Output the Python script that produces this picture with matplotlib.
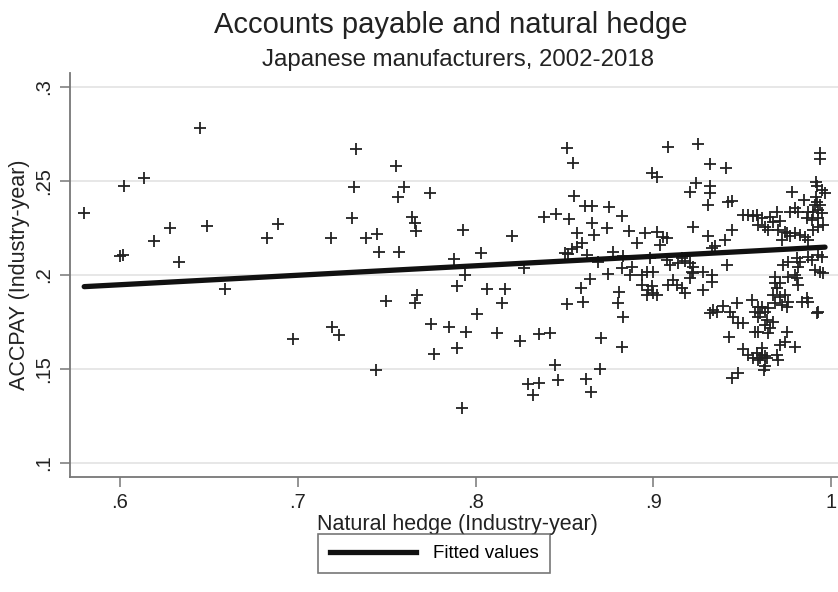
import numpy as np
import matplotlib
matplotlib.use("Agg")
import matplotlib.pyplot as plt
from matplotlib.lines import Line2D

plt.rcParams['font.family'] = ['Liberation Sans', 'DejaVu Sans']

# Natural hedge (x) and ACCPAY (y)
hedge = [
    # left region
    0.5799, 0.6023, 0.6137, 0.6000, 0.6015, 0.6190, 0.6280, 0.6330, 0.6450, 0.6490, 0.6590, 0.6825, 0.6887,
    # 0.70 - 0.84
    0.7328, 0.7553, 0.7317, 0.7600, 0.7566, 0.7746, 0.7303, 0.7641, 0.7660, 0.7663, 0.7187, 0.7384, 0.7444,
    0.7928, 0.8204, 0.7459, 0.7570, 0.7879, 0.8029, 0.7941, 0.8273, 0.7896, 0.8066, 0.8168, 0.7497, 0.7673,
    0.7660, 0.8147, 0.8010, 0.7191, 0.7234, 0.7748, 0.7851, 0.7945, 0.8123, 0.8250, 0.7768, 0.7894, 0.7440,
    0.7922, 0.6975,
    # 0.83 - 0.89
    0.8517, 0.8551, 0.8555, 0.8616, 0.8653, 0.8751, 0.8822, 0.8385, 0.8453, 0.8524, 0.8653, 0.8737, 0.8865,
    0.8569, 0.8667, 0.8597, 0.8569, 0.8541, 0.8907, 0.8503, 0.8522, 0.8625, 0.8775, 0.8832, 0.8691, 0.8747,
    0.8822, 0.8878, 0.8869, 0.8646, 0.8592, 0.8513, 0.8603, 0.8809, 0.8803, 0.8827, 0.8704, 0.8822, 0.8620,
    0.8648, 0.8700, 0.8447, 0.8466, 0.8297, 0.8359, 0.8322, 0.8359, 0.8419,
    # 0.89 - 0.945 above line
    0.9081, 0.9253, 0.9319, 0.9409, 0.8991, 0.9023, 0.9240, 0.9206, 0.9319, 0.9319, 0.9310, 0.9423, 0.9441,
    0.8954, 0.9019, 0.9057, 0.9038, 0.9075, 0.9225, 0.9310, 0.9441, 0.9403, 0.9347, 0.9328, 0.8982, 0.9075,
    0.9094, 0.9141, 0.9160, 0.9178, 0.9206, 0.9225, 0.9216, 0.9281, 0.9328, 0.9413, 0.8935, 0.8963, 0.9001,
    # 0.89 - 0.935 below line
    0.8935, 0.8972, 0.8963, 0.9001, 0.9019, 0.8991, 0.9085, 0.9113, 0.9132, 0.9160, 0.9178, 0.9206, 0.9225,
    0.9281, 0.9328,
    # 0.93 - 0.965 low cluster
    0.9319, 0.9338, 0.9356, 0.9394, 0.9429, 0.9450, 0.9469, 0.9479, 0.9507, 0.9554, 0.9572, 0.9610, 0.9601,
    0.9591, 0.9572, 0.9425, 0.9502, 0.9535, 0.9563, 0.9591, 0.9610, 0.9629, 0.9629, 0.9441, 0.9479,
    # 0.95 - 1.0 upper cluster
    0.9938, 0.9938, 0.9916, 0.9920, 0.9947, 0.9966, 0.9783, 0.9845, 0.9916, 0.9920, 0.9938, 0.9907, 0.9797,
    0.9769, 0.9816, 0.9873, 0.9901, 0.9929, 0.9947, 0.9507, 0.9535, 0.9563, 0.9582, 0.9610, 0.9657, 0.9694,
    0.9591, 0.9629, 0.9676, 0.9713, 0.9648, 0.9704, 0.9741, 0.9723, 0.9751, 0.9769, 0.9797, 0.9826, 0.9854,
    0.9873, 0.9863, 0.9891, 0.9929, 0.9929, 0.9901, 0.9957,
    # 0.965 - 1.0 around the line
    0.9732, 0.9760, 0.9807, 0.9826, 0.9816, 0.9873, 0.9891, 0.9929, 0.9947, 0.9910, 0.9957, 0.9797, 0.9685,
    0.9760,
    # 0.955 - 1.0 lower cluster
    0.9685, 0.9694, 0.9713, 0.9807, 0.9816, 0.9938, 0.9676, 0.9713, 0.9741, 0.9685, 0.9723, 0.9751, 0.9760,
    0.9591, 0.9648, 0.9629, 0.9835, 0.9863, 0.9873, 0.9919, 0.9929, 0.9591, 0.9638, 0.9629, 0.9676, 0.9657,
    0.9648, 0.9751, 0.9713, 0.9797, 0.9741, 0.9582, 0.9610, 0.9601, 0.9638, 0.9694, 0.9704, 0.9620,
]

accpay = [
    0.2327, 0.2472, 0.2513, 0.2100, 0.2105, 0.2180, 0.2250, 0.2066, 0.2780, 0.2259, 0.1926, 0.2194, 0.2270,
    0.2667, 0.2580, 0.2468, 0.2465, 0.2412, 0.2433, 0.2303, 0.2305, 0.2273, 0.2234, 0.2194, 0.2194, 0.2217,
    0.2238, 0.2207, 0.2119, 0.2119, 0.2084, 0.2114, 0.2000, 0.2034, 0.1940, 0.1926, 0.1926, 0.1862, 0.1890,
    0.1848, 0.1848, 0.1791, 0.1723, 0.1679, 0.1736, 0.1720, 0.1697, 0.1688, 0.1647, 0.1578, 0.1608, 0.1493,
    0.1293, 0.1660,
    0.2672, 0.2596, 0.2420, 0.2365, 0.2365, 0.2358, 0.2314, 0.2309, 0.2321, 0.2298, 0.2273, 0.2250, 0.2232,
    0.2220, 0.2211, 0.2167, 0.2149, 0.2135, 0.2167, 0.2117, 0.2110, 0.2105, 0.2122, 0.2100, 0.2069, 0.2005,
    0.2034, 0.2043, 0.1998, 0.1975, 0.1928, 0.1844, 0.1856, 0.1910, 0.1848, 0.1777, 0.1665, 0.1617, 0.1444,
    0.1378, 0.1498, 0.1520, 0.1440, 0.1419, 0.1426, 0.1360, 0.1685, 0.1688,
    0.2681, 0.2695, 0.2589, 0.2566, 0.2539, 0.2518, 0.2486, 0.2441, 0.2472, 0.2436, 0.2371, 0.2388, 0.2394,
    0.2220, 0.2229, 0.2202, 0.2158, 0.2194, 0.2252, 0.2206, 0.2238, 0.2185, 0.2153, 0.2141, 0.2087, 0.2078,
    0.2052, 0.2061, 0.2087, 0.2070, 0.2061, 0.2043, 0.2016, 0.2016, 0.1998, 0.2052, 0.2000, 0.2016, 0.2016,
    0.1945, 0.1919, 0.1892, 0.1901, 0.1892, 0.1937, 0.1945, 0.1972, 0.1945, 0.1928, 0.1901, 0.1981, 0.2007,
    0.1919, 0.1963,
    0.1795, 0.1812, 0.1803, 0.1833, 0.1803, 0.1776, 0.1847, 0.1742, 0.1742, 0.1866, 0.1803, 0.1830, 0.1795,
    0.1697, 0.1697, 0.1668, 0.1606, 0.1574, 0.1556, 0.1547, 0.1610, 0.1566, 0.1513, 0.1449, 0.1476,
    0.2646, 0.2614, 0.2495, 0.2472, 0.2451, 0.2433, 0.2441, 0.2397, 0.2415, 0.2388, 0.2371, 0.2371, 0.2353,
    0.2335, 0.2335, 0.2335, 0.2335, 0.2344, 0.2327, 0.2317, 0.2317, 0.2312, 0.2317, 0.2300, 0.2309, 0.2335,
    0.2265, 0.2255, 0.2282, 0.2287, 0.2238, 0.2238, 0.2229, 0.2185, 0.2220, 0.2206, 0.2220, 0.2211, 0.2202,
    0.2185, 0.2300, 0.2291, 0.2300, 0.2255, 0.2238, 0.2265,
    0.2052, 0.2069, 0.2087, 0.2069, 0.2043, 0.2096, 0.2078, 0.2105, 0.2096, 0.2025, 0.2007, 0.2000, 0.1989,
    0.1989,
    0.1954, 0.1928, 0.1954, 0.1981, 0.1945, 0.2016, 0.1892, 0.1883, 0.1892, 0.1848, 0.1839, 0.1830, 0.1856,
    0.1830, 0.1821, 0.1803, 0.1856, 0.1874, 0.1856, 0.1795, 0.1803, 0.1777, 0.1760, 0.1733, 0.1750, 0.1715,
    0.1688, 0.1697, 0.1626, 0.1617, 0.1644, 0.1582, 0.1573, 0.1555, 0.1555, 0.1573, 0.1547, 0.1493,
]

# "Fitted values" series (line end points)
fit_hedge = [0.5799, 0.9966]
fit_accpay = [0.1936, 0.2146]

x_ticks = [0.6, 0.7, 0.8, 0.9, 1.0]
x_tick_labels = [".6", ".7", ".8", ".9", "1"]
y_ticks = [0.1, 0.15, 0.2, 0.25, 0.3]
y_tick_labels = [".1", ".15", ".2", ".25", ".3"]

fig = plt.figure(figsize=(8.38, 5.92), dpi=100)
fig.patch.set_facecolor('white')
ax = fig.add_axes([0.0835, 0.195, 0.925, 0.681])

ax.set_xlim(0.5719, 1.0079)
ax.set_ylim(0.0926, 0.307)

for yt in y_ticks:
    ax.axhline(yt, color='#e3e3e3', lw=1.2, zorder=0)

ax.plot(hedge, accpay, linestyle='none', marker='+', markersize=8.5, markeredgewidth=1.3,
        color='#222222', zorder=2)
ax.plot(fit_hedge, fit_accpay, color='#111111', lw=3.8, solid_capstyle='round', zorder=3)

ax.set_xticks(x_ticks)
ax.set_xticklabels(x_tick_labels)
ax.set_yticks(y_ticks)
ax.set_yticklabels(y_tick_labels, rotation=90, va='center')
ax.tick_params(axis='both', direction='out', length=7, width=1.1, color='#777777',
               labelsize=14.5, labelcolor='#222222', pad=5)

for s in ['top', 'right']:
    ax.spines[s].set_visible(False)
for s in ['left', 'bottom']:
    ax.spines[s].set_color('#777777')
    ax.spines[s].set_linewidth(1.3)

ax.set_xlabel('Natural hedge (Industry-year)', fontsize=15.5, color='#222222', labelpad=1)
ax.set_ylabel('ACCPAY (Industry-year)', fontsize=15.5, color='#222222', labelpad=3)

cx = 0.0835 + 0.925 / 2
fig.text(cx - 0.008, 0.958, 'Accounts payable and natural hedge', ha='center', va='center',
         fontsize=21, color='#222222')
fig.text(cx, 0.899, 'Japanese manufacturers, 2002-2018', ha='center', va='center',
         fontsize=17.3, color='#222222')

handle = Line2D([], [], color='#111111', lw=3.8)
leg = fig.legend([handle], ['Fitted values'], loc='center', bbox_to_anchor=(0.518, 0.065),
                 frameon=True, fancybox=False, edgecolor='#555555', fontsize=13.5,
                 handlelength=4.6, borderpad=0.6, handletextpad=0.9)
leg.get_frame().set_linewidth(1.2)

fig.savefig('out.png', dpi=100, facecolor='white')
